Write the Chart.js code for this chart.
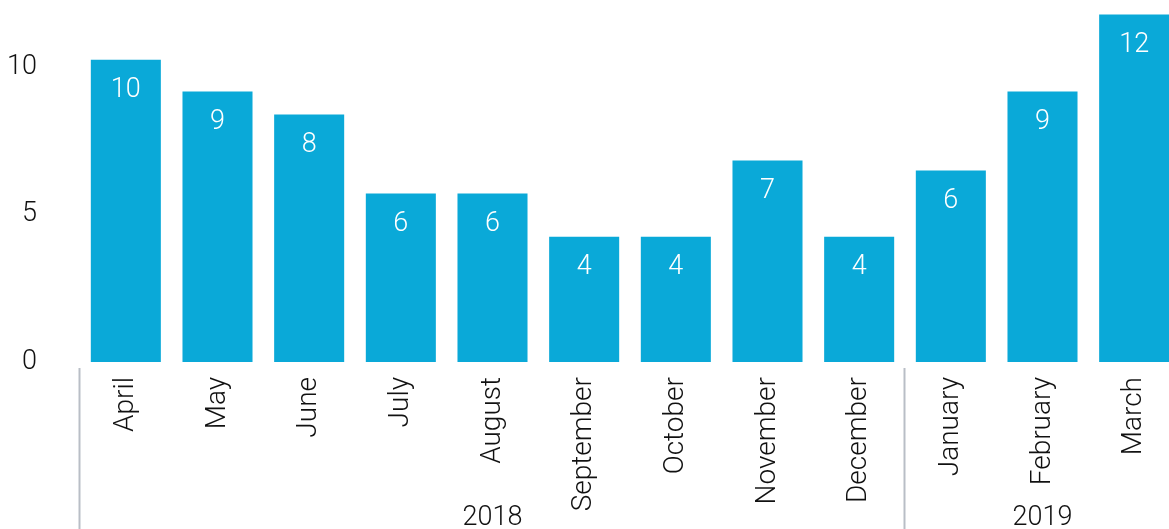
<!DOCTYPE html>
<html>
<head>
<meta charset="utf-8">
<script src="https://cdn.jsdelivr.net/npm/chart.js@4/dist/chart.umd.min.js"></script>
<style>
  html, body { margin: 0; padding: 0; background: #ffffff; overflow: hidden; }
  #wrap { position: absolute; left: 0; top: 0; width: 1180px; height: 529px; }
</style>
</head>
<body>
<div id="wrap"><canvas id="chart"></canvas></div>
<script>
// Monthly values, April 2018 to March 2019
const months = ['April', 'May', 'June', 'July', 'August', 'September', 'October',
                'November', 'December', 'January', 'February', 'March'];
const values = [10.25, 9.17, 8.39, 5.71, 5.71, 4.25, 4.25, 6.83, 4.25, 6.49, 9.17, 11.78];
const yTicks = [0, 5, 10];
// Year groups: label and index range of months they cover
const yearNames = ['2018', '2019'];
const yearStart = [0, 9];
const yearEnd = [8, 11];

const FONT = 'Roboto, "Liberation Sans", Arial, sans-serif';
const WEIGHT = '300';
const NUM_SIZE = 27;
const MONTH_SIZE = 28;
const TEXT = '#111111';
const BAR = '#0aa9d8';
const RULE = '#b9bec6';

// White value labels inside each bar, near its top
const valueLabels = {
  id: 'valueLabels',
  afterDatasetsDraw(chart) {
    const ctx = chart.ctx;
    const meta = chart.getDatasetMeta(0);
    ctx.save();
    ctx.fillStyle = '#ffffff';
    ctx.font = WEIGHT + ' ' + NUM_SIZE + 'px ' + FONT;
    ctx.textAlign = 'center';
    ctx.textBaseline = 'middle';
    meta.data.forEach((bar, i) => {
      const v = chart.data.datasets[0].data[i];
      ctx.fillText(String(Math.round(v)), bar.x, bar.y + 31);
    });
    ctx.restore();
  }
};

// Vertical rules between year groups and the year captions below the months
const yearGroups = {
  id: 'yearGroups',
  afterDraw(chart) {
    const ctx = chart.ctx;
    const x = chart.scales.x;
    const bottom = chart.height;
    const edge = (i) => i <= 0 ? x.left : (x.getPixelForValue(i - 1) + x.getPixelForValue(i)) / 2;
    const right = (i) => i >= months.length - 1 ? x.right : (x.getPixelForValue(i) + x.getPixelForValue(i + 1)) / 2;
    ctx.save();
    ctx.strokeStyle = RULE;
    ctx.lineWidth = 2;
    yearStart.forEach((s) => {
      const px = Math.round(edge(s)) - 0.5;
      ctx.beginPath();
      ctx.moveTo(px, chart.chartArea.bottom + 6);
      ctx.lineTo(px, bottom);
      ctx.stroke();
    });
    ctx.fillStyle = TEXT;
    ctx.font = WEIGHT + ' ' + NUM_SIZE + 'px ' + FONT;
    ctx.textAlign = 'center';
    ctx.textBaseline = 'middle';
    yearNames.forEach((name, k) => {
      const cx = (edge(yearStart[k]) + right(yearEnd[k])) / 2;
      ctx.fillText(name, cx, bottom - 11);
    });
    ctx.restore();
  }
};

new Chart(document.getElementById('chart'), {
  type: 'bar',
  data: {
    labels: months,
    datasets: [{
      data: values,
      backgroundColor: BAR,
      borderWidth: 0,
      barPercentage: 0.764,
      categoryPercentage: 1.0
    }]
  },
  options: {
    responsive: true,
    maintainAspectRatio: false,
    animation: false,
    devicePixelRatio: 1,
    layout: { padding: { top: 8, right: 0, left: 0, bottom: 0 } },
    plugins: {
      legend: { display: false },
      tooltip: { enabled: false }
    },
    scales: {
      x: {
        grid: { display: false, drawTicks: false },
        border: { display: false },
        ticks: {
          minRotation: 90,
          maxRotation: 90,
          autoSkip: false,
          padding: 15,
          color: TEXT,
          font: { family: FONT, size: MONTH_SIZE, weight: WEIGHT }
        },
        afterFit(scale) {
          scale.height = 167;
          scale.paddingLeft = 0;
          scale.paddingRight = 0;
        }
      },
      y: {
        min: 0,
        max: 12,
        grid: { display: false, drawTicks: false },
        border: { display: false },
        afterBuildTicks(scale) { scale.ticks = yTicks.map(v => ({ value: v })); },
        ticks: {
          padding: 43,
          color: TEXT,
          font: { family: FONT, size: NUM_SIZE, weight: WEIGHT }
        },
        afterFit(scale) {
          scale.width = 80;
          scale.paddingTop = 0;
          scale.paddingBottom = 0;
        }
      }
    }
  },
  plugins: [valueLabels, yearGroups]
});
</script>
</body>
</html>
